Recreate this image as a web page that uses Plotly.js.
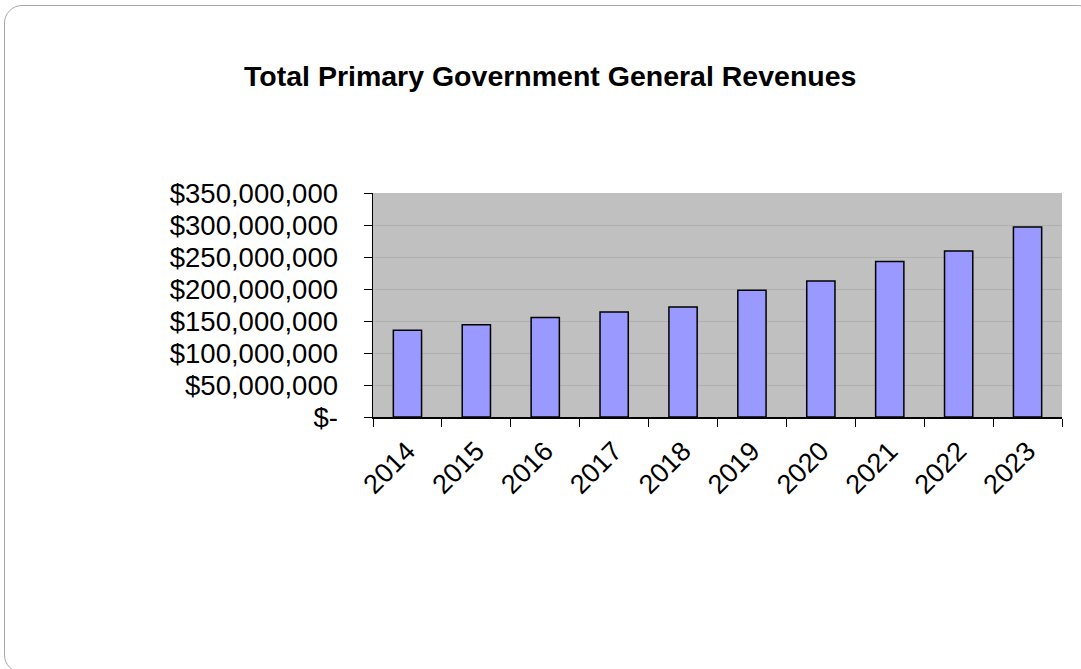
<!DOCTYPE html>
<html>
<head>
<meta charset="utf-8">
<script src="https://cdn.plot.ly/plotly-3.0.1.min.js"></script>
<style>
  html, body { margin: 0; padding: 0; background: #ffffff; overflow: hidden; }
  #frame { position: absolute; left: 4px; top: 5px; width: 1092px; height: 668px;
           border: 1.5px solid #a8a8a8; border-radius: 18px; box-sizing: border-box; }
  #chart { position: absolute; left: 0; top: 0; width: 1081px; height: 669px; }
</style>
</head>
<body>
<div id="frame"></div>
<div id="chart"></div>
<script>
const years = ["2014", "2015", "2016", "2017", "2018", "2019", "2020", "2021", "2022", "2023"];
const revenues = [135500000, 144300000, 155300000, 164000000, 171900000, 198000000, 212500000, 243000000, 259400000, 297000000];
const yTickValues = [0, 50000000, 100000000, 150000000, 200000000, 250000000, 300000000, 350000000];
const yTickLabels = ["$-", "$50,000,000", "$100,000,000", "$150,000,000", "$200,000,000", "$250,000,000", "$300,000,000", "$350,000,000"];
const chartTitle = "Total Primary Government General Revenues";

const trace = {
  type: "bar",
  x: years,
  y: revenues,
  marker: { color: "#9999ff", line: { color: "#000000", width: 1.5 } },
  hoverinfo: "x+y"
};

const layout = {
  width: 1081,
  height: 669,
  paper_bgcolor: "rgba(0,0,0,0)",
  plot_bgcolor: "#c0c0c0",
  margin: { l: 373, r: 19, t: 193, b: 252, pad: 0 },
  showlegend: false,
  bargap: 0.59,
  font: { family: "Liberation Sans, Arial, sans-serif", color: "#000000" },
  title: {
    text: "<b>" + chartTitle + "</b>",
    font: { family: "Liberation Sans, Arial, sans-serif", size: 28.5, color: "#000000" },
    x: 0.509, xref: "container", xanchor: "center",
    y: 0.886, yref: "container", yanchor: "middle"
  },
  xaxis: {
    type: "category",
    tickangle: -45,
    tickfont: { size: 27 },
    ticks: "outside",
    tickson: "boundaries",
    ticklen: 8,
    tickcolor: "#000000",
    tickwidth: 1,
    ticklabelstandoff: 6,
    showline: true,
    linecolor: "#000000",
    linewidth: 1.5,
    showgrid: false,
    zeroline: false,
    fixedrange: true
  },
  yaxis: {
    range: [0, 350000000],
    tickvals: yTickValues,
    ticktext: yTickLabels,
    tickfont: { size: 27.5 },
    ticks: "outside",
    ticklen: 8,
    tickcolor: "#000000",
    tickwidth: 1,
    ticklabelstandoff: 20,
    showline: true,
    linecolor: "#000000",
    linewidth: 1.5,
    showgrid: true,
    gridcolor: "#b0b0b0",
    gridwidth: 1,
    zeroline: false,
    fixedrange: true
  }
};

Plotly.newPlot("chart", [trace], layout, { displayModeBar: false, staticPlot: true });
</script>
</body>
</html>
